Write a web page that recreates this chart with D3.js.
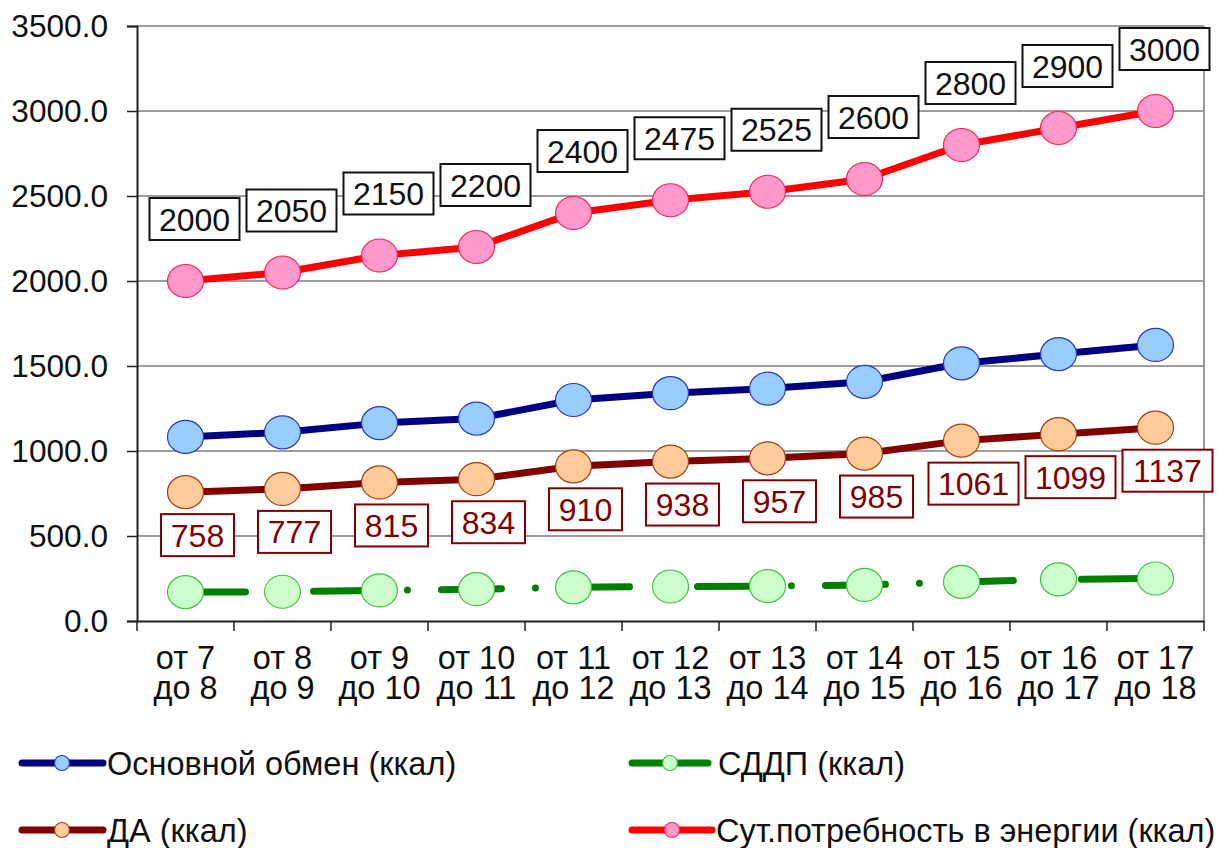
<!DOCTYPE html>
<html><head><meta charset="utf-8">
<script src="https://cdn.jsdelivr.net/npm/d3@7"></script>
<style>body{margin:0;background:#fff} text{font-family:"Liberation Sans",Arial,sans-serif}</style>
</head><body><svg id="c" width="1224" height="848"></svg>
<script>
// ---- data ----
const categories = ["от 7|до 8","от 8|до 9","от 9|до 10","от 10|до 11","от 11|до 12","от 12|до 13","от 13|до 14","от 14|до 15","от 15|до 16","от 16|до 17","от 17|до 18"];
const basal = [1083,1110,1164,1191,1300,1340,1367,1407,1516,1570,1624];
const sddp  = [170,172,180,187,198,203,205,212,230,245,250];
const da    = [758,777,815,834,910,938,957,985,1061,1099,1137];
const total = [2000,2050,2150,2200,2400,2475,2525,2600,2800,2900,3000];
const yTicks = [0,500,1000,1500,2000,2500,3000,3500];
const seriesNames = ["Основной обмен (ккал)","СДДП (ккал)","ДА (ккал)","Сут.потребность в энергии (ккал)"];

// ---- layout ----
const svg = d3.select("#c");
const L = 137, R = 1204, T = 26, B = 621;
const x = d3.scaleBand().domain(categories).range([L, R]);
const y = d3.scaleLinear().domain([0, 3500]).range([B, T]);
const cx = c => x(c) + x.bandwidth() / 2;
const FS = 32;

// gridlines
svg.append("g").selectAll("line").data(yTicks.filter(v => v > 0)).join("line")
  .attr("x1", L).attr("x2", R).attr("y1", d => y(d)).attr("y2", d => y(d))
  .attr("stroke", "#3a3a3a").attr("stroke-width", 1.2);
// right border
svg.append("line").attr("x1", R).attr("x2", R).attr("y1", T).attr("y2", B)
  .attr("stroke", "#999").attr("stroke-width", 2);

// y axis
const yAxis = svg.append("g").attr("transform", `translate(${L},0)`)
  .call(d3.axisLeft(y).tickValues(yTicks).tickFormat(d3.format(".1f")).tickSize(10).tickPadding(19));
yAxis.select(".domain").attr("stroke", "#222").attr("stroke-width", 2);
yAxis.selectAll(".tick line").attr("stroke", "#222").attr("stroke-width", 1.5);
yAxis.selectAll("text").attr("font-size", 31.6).attr("fill", "#111")
  .attr("font-family", '"Liberation Sans",Arial,sans-serif');

// x axis
const xAxis = svg.append("g").attr("transform", `translate(0,${B})`)
  .call(d3.axisBottom(x).tickSize(0).tickFormat(""));
xAxis.select(".domain").attr("stroke", "#222").attr("stroke-width", 2);
const bounds = categories.map(c => x(c)).concat([R]);
xAxis.selectAll(".bt").data(bounds).join("line").attr("class", "bt")
  .attr("x1", d => d).attr("x2", d => d).attr("y1", 0).attr("y2", 10)
  .attr("stroke", "#222").attr("stroke-width", 1.5);
[0, 1].forEach(k => {
  svg.append("g").selectAll("text").data(categories).join("text")
    .attr("text-anchor", "middle").attr("font-size", 32.5).attr("fill", "#111")
    .attr("x", d => cx(d)).attr("y", k ? 699 : 669).text(d => d.split("|")[k]);
});

// series
const series = [
  {name: seriesNames[0], vals: basal, line: "#000080", fill: "#99CCFF", mstroke: "#2b3bc0", dash: null},
  {name: seriesNames[1], vals: sddp,  line: "#008000", fill: "#CCFFCC", mstroke: "#44c044", dash: "60,34,0,34"},
  {name: seriesNames[2], vals: da,    line: "#800000", fill: "#FFCC99", mstroke: "#a0401a", dash: null},
  {name: seriesNames[3], vals: total, line: "#FF0000", fill: "#FF99CC", mstroke: "#ff2255", dash: null}
];
const lineGen = d3.line().x((d, i) => cx(categories[i])).y(d => y(d));
series.forEach(s => {
  svg.append("path").attr("d", lineGen(s.vals)).attr("fill", "none")
    .attr("stroke", s.line).attr("stroke-width", 7).attr("stroke-linecap", "round")
    .attr("stroke-linejoin", "round").attr("stroke-dasharray", s.dash);
});
series.forEach(s => {
  svg.append("g").selectAll("ellipse").data(s.vals).join("ellipse")
    .attr("cx", (d, i) => cx(categories[i])).attr("cy", d => y(d))
    .attr("rx", 18).attr("ry", 16.5).attr("fill", s.fill)
    .attr("stroke", s.mstroke).attr("stroke-width", 1.2);
});

// data labels
function labels(vals, color, dx, dyTop) {
  const g = svg.append("g");
  vals.forEach((v, i) => {
    const px = cx(categories[i]) + dx, top = y(v) + dyTop;
    const w = String(v).length === 4 ? 90 : 73, h = 42;
    g.append("rect").attr("x", px - w / 2).attr("y", top).attr("width", w).attr("height", h)
      .attr("fill", "#fff").attr("stroke", color).attr("stroke-width", 2);
    g.append("text").attr("x", px).attr("y", top + 32.5).attr("text-anchor", "middle")
      .attr("font-size", FS).attr("fill", color).text(v);
  });
}
labels(total, "#111", 9, -83);
labels(da, "#800000", 12, 22);

// legend
const leg = [
  {s: series[0], x0: 22, x1: 103, mx: 62, tx: 107, ly: 763},
  {s: series[2], x0: 22, x1: 103, mx: 62, tx: 107, ly: 830},
  {s: series[1], x0: 632, x1: 708, mx: 670, tx: 718, ly: 763},
  {s: series[3], x0: 632, x1: 712, mx: 672, tx: 716, ly: 830}
];
leg.forEach(e => {
  svg.append("line").attr("x1", e.x0).attr("x2", e.x1).attr("y1", e.ly).attr("y2", e.ly)
    .attr("stroke", e.s.line).attr("stroke-width", 7).attr("stroke-linecap", "round");
  svg.append("circle").attr("cx", e.mx).attr("cy", e.ly).attr("r", 7.5)
    .attr("fill", e.s.fill).attr("stroke", e.s.mstroke).attr("stroke-width", 1.2);
  svg.append("text").attr("x", e.tx).attr("y", e.ly).attr("dy", "0.36em")
    .attr("font-size", 32.5).attr("fill", "#111").text(e.s.name);
});
</script></body></html>
